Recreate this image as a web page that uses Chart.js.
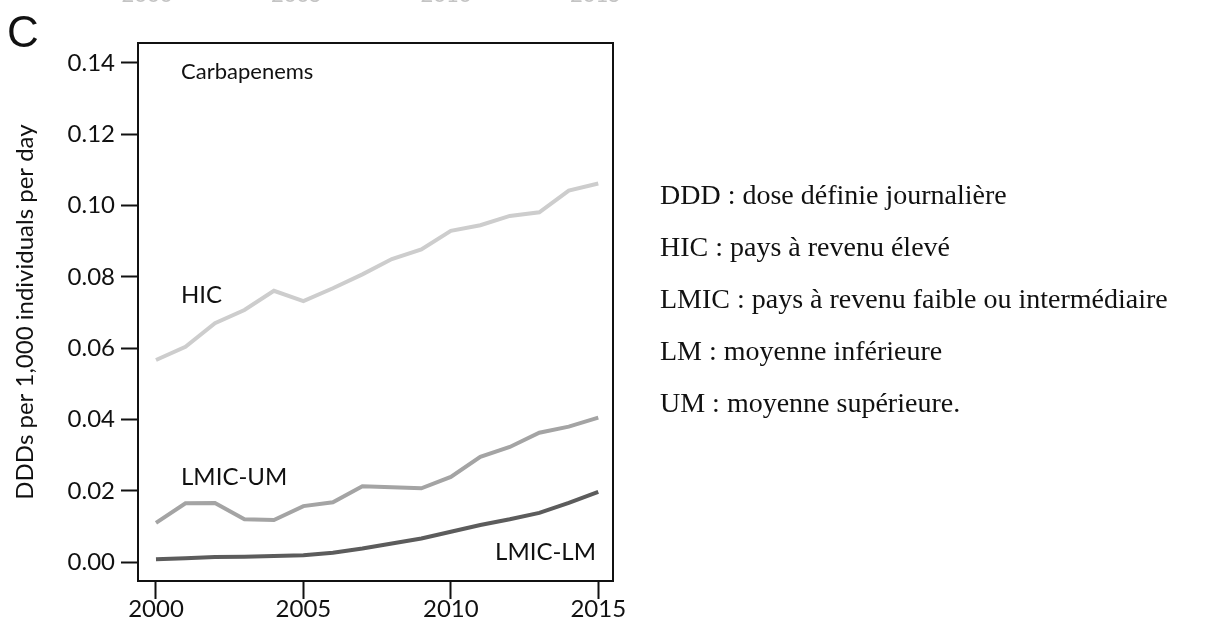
<!DOCTYPE html>
<html>
<head>
<meta charset="utf-8">
<title>Carbapenems</title>
<script src="https://cdn.jsdelivr.net/npm/chart.js@4/dist/chart.umd.min.js"></script>
<style>
  html, body { margin: 0; padding: 0; background: #fff; }
  #wrap { position: relative; width: 1206px; height: 631px; }
</style>
</head>
<body>
<div id="wrap"><canvas id="chart" width="1206" height="631"></canvas></div>
<script>
// Data (DDDs per 1,000 individuals per day)
const years = [2000, 2001, 2002, 2003, 2004, 2005, 2006, 2007, 2008, 2009, 2010, 2011, 2012, 2013, 2014, 2015];
const hic = [0.0567, 0.0604, 0.0670, 0.0707, 0.0761, 0.0732, 0.0768, 0.0807, 0.0850, 0.0877, 0.0929, 0.0945, 0.0971, 0.0981, 0.1042, 0.1062];
const lmicUM = [0.0110, 0.0165, 0.0166, 0.0120, 0.0118, 0.0157, 0.0168, 0.0213, 0.0210, 0.0207, 0.0239, 0.0295, 0.0323, 0.0363, 0.0380, 0.0405];
const lmicLM = [0.0008, 0.0011, 0.0014, 0.0015, 0.0017, 0.0019, 0.0026, 0.0038, 0.0052, 0.0066, 0.0085, 0.0104, 0.0120, 0.0138, 0.0166, 0.0197];

const xTicks = [2000, 2005, 2010, 2015];
const yTicks = [0, 0.02, 0.04, 0.06, 0.08, 0.10, 0.12, 0.14];

// In-plot labels: [text, x (year), y (value), font size]
const seriesLabels = [
    ['Carbapenems', 2000.85, 0.1374, 22],
    ['HIC', 2000.85, 0.0749, 24],
    ['LMIC-UM', 2000.85, 0.0238, 24],
    ['LMIC-LM', 2011.5, 0.0028, 24]
];

// Notes on the right side
const notes = [
    'DDD : dose définie journalière',
    'HIC : pays à revenu élevé',
    'LMIC : pays à revenu faible ou intermédiaire',
    'LM : moyenne inférieure',
    'UM : moyenne supérieure.'
];

// Cut-off tick labels of the panel above
const topFragments = ['2000', '2005', '2010', '2015'];

const sansFont = 'Lato, "Open Sans", sans-serif';

function toPoints(values) {
    return years.map((y, i) => ({ x: y, y: values[i] }));
}

// Frame, text labels and notes
const decorPlugin = {
    id: 'decor',
    afterDatasetsDraw(chart) {
        const { ctx, chartArea, scales } = chart;
        ctx.save();

        // box around the plot
        ctx.strokeStyle = '#111';
        ctx.lineWidth = 2;
        ctx.strokeRect(chartArea.left, chartArea.top,
            chartArea.right - chartArea.left, chartArea.bottom - chartArea.top);

        // series labels
        ctx.fillStyle = '#111';
        ctx.textAlign = 'left';
        ctx.textBaseline = 'middle';
        seriesLabels.forEach(([text, xv, yv, size]) => {
            ctx.font = size + 'px ' + sansFont;
            ctx.fillText(text, scales.x.getPixelForValue(xv), scales.y.getPixelForValue(yv));
        });

        // panel letter
        ctx.font = '44px "Liberation Sans", Arial, sans-serif';
        ctx.textBaseline = 'alphabetic';
        ctx.fillText('C', 7, 47);

        // notes on the right
        ctx.font = '28px "Liberation Serif", "Times New Roman", serif';
        ctx.textBaseline = 'middle';
        notes.forEach((line, i) => {
            ctx.fillText(line, 660, 197 + i * 52);
        });

        // bottoms of the labels from the panel above
        ctx.fillStyle = '#c4c4c4';
        ctx.font = '22px ' + sansFont;
        ctx.textAlign = 'center';
        ctx.textBaseline = 'alphabetic';
        topFragments.forEach((t, i) => {
            ctx.fillText(t, 147 + i * 149.5, 2);
        });

        ctx.restore();
    }
};

new Chart(document.getElementById('chart'), {
    type: 'line',
    data: {
        datasets: [
            {
                label: 'HIC',
                data: toPoints(hic),
                borderColor: '#cdcdcd',
                borderWidth: 4,
                pointRadius: 0,
                tension: 0
            },
            {
                label: 'LMIC-UM',
                data: toPoints(lmicUM),
                borderColor: '#a4a4a4',
                borderWidth: 4,
                pointRadius: 0,
                tension: 0
            },
            {
                label: 'LMIC-LM',
                data: toPoints(lmicLM),
                borderColor: '#5c5c5c',
                borderWidth: 4,
                pointRadius: 0,
                tension: 0
            }
        ]
    },
    options: {
        responsive: false,
        animation: false,
        layout: {
            padding: { left: 0, right: 593, top: 43, bottom: 0 }
        },
        plugins: {
            legend: { display: false },
            tooltip: { enabled: false }
        },
        scales: {
            x: {
                type: 'linear',
                min: 1999.39,
                max: 2015.5,
                afterBuildTicks: function(scale) {
                    scale.ticks = xTicks.map(v => ({ value: v }));
                },
                afterFit: function(scale) {
                    scale.height = 50;
                },
                grid: {
                    drawOnChartArea: false,
                    drawTicks: true,
                    tickLength: 18,
                    tickWidth: 2,
                    tickColor: '#111'
                },
                border: { display: false },
                ticks: {
                    padding: -4,
                    maxRotation: 0,
                    color: '#111',
                    font: { family: sansFont, size: 24 },
                    callback: v => String(v)
                }
            },
            y: {
                min: -0.0053,
                max: 0.1456,
                afterBuildTicks: function(scale) {
                    scale.ticks = yTicks.map(v => ({ value: v }));
                },
                afterFit: function(scale) {
                    scale.width = 138;
                },
                grid: {
                    drawOnChartArea: false,
                    drawTicks: true,
                    tickLength: 17,
                    tickWidth: 2,
                    tickColor: '#111'
                },
                border: { display: false },
                ticks: {
                    padding: 6,
                    color: '#111',
                    font: { family: sansFont, size: 24 },
                    callback: v => v.toFixed(2)
                },
                title: {
                    display: true,
                    text: 'DDDs per 1,000 individuals per day',
                    color: '#111',
                    font: { family: sansFont, size: 24 },
                    padding: { top: 11, bottom: 0 }
                }
            }
        }
    },
    plugins: [decorPlugin]
});
</script>
</body>
</html>
